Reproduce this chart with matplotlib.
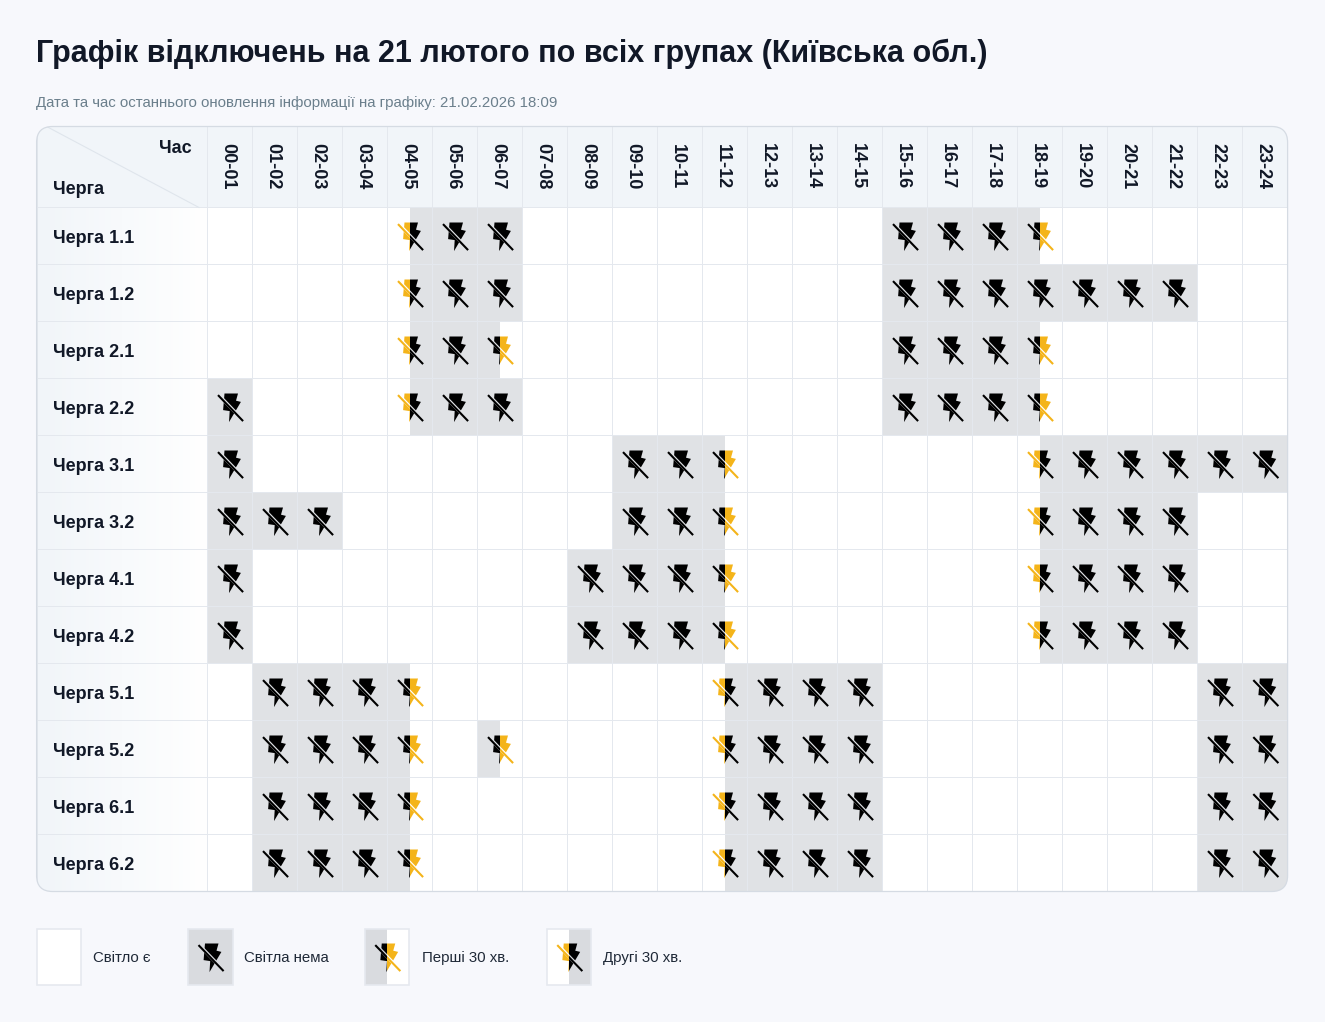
"""Outage schedule table for all queues, drawn on a pixel-sized figure."""
import matplotlib
matplotlib.use("Agg")
import matplotlib.pyplot as plt
import numpy as np
from matplotlib.colors import LinearSegmentedColormap
from matplotlib.patches import FancyBboxPatch, Polygon, Rectangle

W, H = 1325, 1022

TITLE = "Графік відключень на 21 лютого по всіх групах (Київська обл.)"
SUBTITLE = "Дата та час останнього оновлення інформації на графіку: 21.02.2026 18:09"

hours = ["%02d-%02d" % (h, h + 1) for h in range(24)]
queues = ["1.1", "1.2", "2.1", "2.2", "3.1", "3.2", "4.1", "4.2", "5.1", "5.2", "6.1", "6.2"]

# . light on, X no light, F first 30 min out, S second 30 min out
q_1_1 = "....SXX........XXXF....."
q_1_2 = "....SXX........XXXXXXX.."
q_2_1 = "....SXF........XXXF....."
q_2_2 = "X...SXX........XXXF....."
q_3_1 = "X........XXF......SXXXXX"
q_3_2 = "XXX......XXF......SXXX.."
q_4_1 = "X.......XXXF......SXXX.."
q_4_2 = "X.......XXXF......SXXX.."
q_5_1 = ".XXXF......SXXX.......XX"
q_5_2 = ".XXXF.F....SXXX.......XX"
q_6_1 = ".XXXF......SXXX.......XX"
q_6_2 = ".XXXF......SXXX.......XX"
schedule = [q_1_1, q_1_2, q_2_1, q_2_2, q_3_1, q_3_2, q_4_1, q_4_2, q_5_1, q_5_2, q_6_1, q_6_2]

legend_labels = ["Світло є", "Світла нема", "Перші 30 хв.", "Другі 30 хв."]
legend_states = [".", "X", "F", "S"]

BG = "#f7f8fc"
HEAD = "#f1f5f9"
GRID = "#e4e8ee"
OFF = "#e0e2e5"
LEGEND_OFF = "#d9dbdf"
YELLOW = "#f4b41a"
DARK = "#111827"

# bolt outline and strike, pixels from the icon centre
BOLT = [(-6.0, -14.0), (7.5, -14.0), (5.5, -6.8), (10.4, -5.6), (-1.5, 14.6), (-0.8, 3.6), (-7.4, 2.6)]
STRIKE_X = (-12.5, 12.6)
STRIKE_Y = (-12.4, 13.6)

LEFT, TOP, RIGHT, BOTTOM = 36.6, 126.5, 1287.6, 891.5
FIRST, HEAD_B = 207.0, 207.5
CW, RH = 45, 57

plt.rcParams["font.family"] = ["Liberation Sans", "DejaVu Sans"]

fig = plt.figure(figsize=(W / 100, H / 100), dpi=100, facecolor=BG)
ax = fig.add_axes([0, 0, 1, 1])
ax.axis("off")


def draw_icon(cx, cy, half_clip, colour, back):
    """One half of the icon: bolt, gap along the strike, strike."""
    pts = [(cx + px, cy + py) for px, py in BOLT]
    bolt = ax.add_patch(Polygon(pts, closed=True, fc=colour, ec="none", zorder=3))
    gap, = ax.plot([cx + STRIKE_X[0] + 0.4, cx + STRIKE_X[1] + 0.4], [cy + STRIKE_Y[0] - 0.4, cy + STRIKE_Y[1] - 0.4],
                   color=back, lw=2.4, solid_capstyle="butt", zorder=3.1)
    line, = ax.plot([cx + STRIKE_X[0], cx + STRIKE_X[1]], [cy + STRIKE_Y[0], cy + STRIKE_Y[1]],
                    color=colour, lw=1.5, solid_capstyle="butt", zorder=3.2)
    for art in (bolt, gap, line):
        art.set_clip_path(half_clip)


def draw_cell(x, y, w, h, state, off=OFF, edge=GRID, lw=0.72, clip=None):
    left_off = state in "XF"
    right_off = state in "XS"
    parts = [
        ax.add_patch(Rectangle((x, y), w / 2, h, fc=off if left_off else "white", ec="none", zorder=2.1)),
        ax.add_patch(Rectangle((x + w / 2, y), w / 2, h, fc=off if right_off else "white", ec="none", zorder=2.1)),
        ax.add_patch(Rectangle((x, y), w, h, fc="none", ec=edge, lw=lw, zorder=2.2)),
    ]
    if clip is not None:
        for part in parts:
            part.set_clip_path(clip)
    if state == ".":
        return
    cx, cy = x + w / 2 + 1.0, y + h / 2 + 0.5
    left_clip = Rectangle((x, y), w / 2, h, transform=ax.transData)
    right_clip = Rectangle((x + w / 2, y), w / 2, h, transform=ax.transData)
    draw_icon(cx, cy, left_clip, "black" if left_off else YELLOW, off if left_off else "white")
    draw_icon(cx, cy, right_clip, "black" if right_off else YELLOW, off if right_off else "white")


ax.text(36, 62, TITLE, fontsize=22.0, fontweight="bold", color=DARK, va="baseline", ha="left")
ax.text(36, 107, SUBTITLE, fontsize=10.85, color="#6b7f8c", va="baseline", ha="left")

frame = FancyBboxPatch((LEFT, TOP), RIGHT - LEFT, BOTTOM - TOP, boxstyle="round,pad=0,rounding_size=16",
                       fc="white", ec="none", zorder=1)
ax.add_patch(frame)

# header band
head = ax.add_patch(Rectangle((LEFT, TOP), RIGHT - LEFT, HEAD_B - TOP, fc=HEAD, ec=GRID, lw=0.72, zorder=2))
head.set_clip_path(frame)
diag, = ax.plot([LEFT + 10, FIRST - 8], [TOP, HEAD_B], color="#dfe5ec", lw=0.8, zorder=2.5)
diag.set_clip_path(frame)
for i, label in enumerate(hours):
    x = FIRST + i * CW
    ax.add_patch(Rectangle((x, TOP), CW, HEAD_B - TOP, fc="none", ec=GRID, lw=0.72, zorder=2.2)).set_clip_path(frame)
    ax.text(x + CW / 2 - 2.0, 166.5, label, rotation=-90, fontsize=13, fontweight="bold", color=DARK,
            ha="center", va="center", zorder=4)
ax.text(192, 153, "Час", fontsize=13, fontweight="bold", color=DARK, ha="right", va="baseline", zorder=4)
ax.text(53, 193.5, "Черга", fontsize=13, fontweight="bold", color=DARK, ha="left", va="baseline", zorder=4)

# first column fades from header tint to white
fade = LinearSegmentedColormap.from_list("fade", [HEAD, "white"])
strip = ax.imshow(np.linspace(0, 1, 171).reshape(1, -1), extent=(LEFT, FIRST, BOTTOM, HEAD_B), aspect="auto",
                  zorder=2, cmap=fade)
strip.set_clip_path(frame)

for r, (queue, row) in enumerate(zip(queues, schedule)):
    y = HEAD_B + r * RH
    ax.add_patch(Rectangle((LEFT, y), FIRST - LEFT, RH, fc="none", ec=GRID, lw=0.72, zorder=2.2)).set_clip_path(frame)
    ax.text(53, y + 35.5, "Черга " + queue, fontsize=13, fontweight="bold", color=DARK,
            ha="left", va="baseline", zorder=4)
    for c, state in enumerate(row):
        draw_cell(FIRST + c * CW, y, CW + (0.6 if c == 23 else 0), RH, state, clip=frame)

ax.add_patch(FancyBboxPatch((LEFT, TOP), RIGHT - LEFT, BOTTOM - TOP, boxstyle="round,pad=0,rounding_size=16",
                            fc="none", ec="#d5dbe3", lw=0.9, zorder=5))

# legend
legend_x = [36.5, 187.5, 365, 547]
legend_w = [44, 45, 43.5, 43.5]
text_x = [93, 244, 422, 603]
for lx, lw_, tx, state, label in zip(legend_x, legend_w, text_x, legend_states, legend_labels):
    draw_cell(lx, 929, lw_, 56, state, off=LEGEND_OFF, edge="#e6e9ef", lw=1.2)
    ax.text(tx, 962, label, fontsize=10.8, color="#1f2937", ha="left", va="baseline")

ax.set_xlim(0, W)
ax.set_ylim(H, 0)

fig.savefig("out.png", dpi=100, facecolor=BG)
